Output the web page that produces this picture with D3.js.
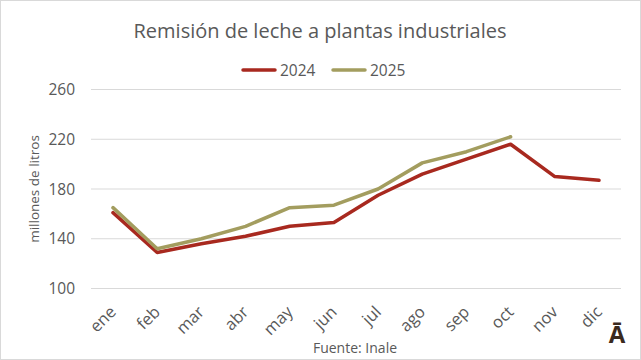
<!DOCTYPE html>
<html lang="es">
<head>
<meta charset="utf-8">
<title>Remisión de leche</title>
<style>
  body { margin: 0; background: #fff; }
  text { font-family: "Open Sans", "Liberation Sans", sans-serif; fill: #595959; }
  .grid line { stroke: #d9d9d9; stroke-width: 1; }
</style>
</head>
<body>
<script src="https://cdn.jsdelivr.net/npm/d3@7"></script>
<script>
// datos
var meses = ["ene","feb","mar","abr","may","jun","jul","ago","sep","oct","nov","dic"];
var v2024 = [161, 129, 136, 142, 150, 153, 175, 192, 204, 216, 190, 187];
var v2025 = [165, 132, 140, 150, 165, 167, 180, 201, 210, 222];
var yTicks = [100, 140, 180, 220, 260];

var W = 641, H = 360;
var svg = d3.select("body").append("svg").attr("width", W).attr("height", H);

svg.append("rect").attr("x", 0.5).attr("y", 0.5).attr("width", W - 1).attr("height", H - 1)
  .attr("fill", "#fff").attr("stroke", "#d9d9d9");

var x = d3.scalePoint().domain(meses).range([113, 599]);
var y = d3.scaleLinear().domain([100, 260]).range([288.5, 89.5]);

// grid
svg.append("g").attr("class", "grid")
  .selectAll("line").data(yTicks).enter().append("line")
  .attr("x1", 91).attr("x2", 621)
  .attr("y1", function(d){ return y(d); }).attr("y2", function(d){ return y(d); });

svg.selectAll("text.ytick").data(yTicks).enter().append("text")
  .attr("class", "ytick")
  .attr("x", 75).attr("y", function(d){ return y(d) + 5.5; })
  .attr("text-anchor", "end").attr("font-size", "15.5px")
  .text(function(d){ return d; });

svg.selectAll("text.xtick").data(meses).enter().append("text")
  .attr("class", "xtick")
  .attr("transform", function(d){ return "translate(" + (x(d) + 4) + ",313) rotate(-45)"; })
  .attr("text-anchor", "end").attr("font-size", "16.5px")
  .text(function(d){ return d; });

var line = d3.line().x(function(d, i){ return x(meses[i]); }).y(function(d){ return y(d); });

var series = [
  {name: "2024", vals: v2024, color: "#a8291f"},
  {name: "2025", vals: v2025, color: "#a39d5f"}
];

svg.selectAll("path.serie").data(series).enter().append("path")
  .attr("class", "serie")
  .attr("d", function(d){ return line(d.vals); })
  .attr("fill", "none").attr("stroke", function(d){ return d.color; })
  .attr("stroke-width", 3.5).attr("stroke-linejoin", "round").attr("stroke-linecap", "round");

// titulo
svg.append("text").attr("x", 320).attr("y", 38).attr("text-anchor", "middle")
  .attr("font-size", "20px").text("Remisión de leche a plantas industriales");

// leyenda
var leg = svg.selectAll("g.leg").data(series).enter().append("g")
  .attr("transform", function(d, i){ return "translate(" + (243 + i * 90) + ",70)"; });
leg.append("line").attr("x1", 0).attr("x2", 32).attr("y1", 0).attr("y2", 0)
  .attr("stroke", function(d){ return d.color; }).attr("stroke-width", 3.5).attr("stroke-linecap", "round");
leg.append("text").attr("x", 37).attr("y", 6).attr("font-size", "15.5px").text(function(d){ return d.name; });

// eje y
svg.append("text").attr("transform", "translate(39,189) rotate(-90)")
  .attr("text-anchor", "middle").attr("font-size", "13.5px").text("millones de litros");

svg.append("text").attr("x", 355).attr("y", 353).attr("text-anchor", "middle")
  .attr("font-size", "14px").text("Fuente: Inale");

svg.append("text").attr("x", 617).attr("y", 343).attr("text-anchor", "middle")
  .attr("font-size", "24px").attr("font-weight", "bold").style("fill", "#3b2a1e").text("Ā");
</script>
</body>
</html>
